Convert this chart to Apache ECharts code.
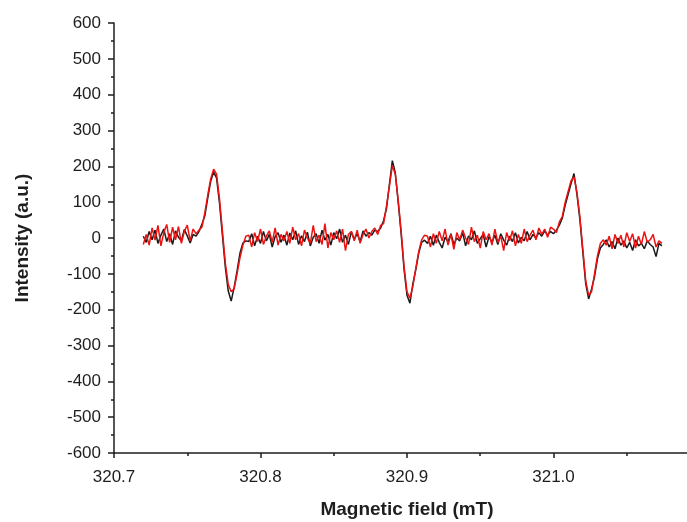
<!DOCTYPE html>
<html>
<head>
<meta charset="utf-8">
<script src="https://cdn.jsdelivr.net/npm/echarts@6/dist/echarts.min.js"></script>
<style>html,body{margin:0;padding:0;background:#fff}#c{width:687px;height:522px}</style>
</head>
<body>
<div id="c"></div>
<script>
// Magnetic field (mT)
var field = [
320.720,320.722,320.724,320.726,320.728,320.730,320.732,320.734,320.736,320.738,
320.740,320.742,320.744,320.746,320.748,320.750,320.752,320.754,320.756,320.758,
320.760,320.762,320.764,320.766,320.768,320.770,320.772,320.774,320.776,320.778,
320.780,320.782,320.784,320.786,320.788,320.790,320.792,320.794,320.796,320.798,
320.800,320.802,320.804,320.806,320.808,320.810,320.812,320.814,320.816,320.818,
320.820,320.822,320.824,320.826,320.828,320.830,320.832,320.834,320.836,320.838,
320.840,320.842,320.844,320.846,320.848,320.850,320.852,320.854,320.856,320.858,
320.860,320.862,320.864,320.866,320.868,320.870,320.872,320.874,320.876,320.878,
320.880,320.882,320.884,320.886,320.888,320.890,320.892,320.894,320.896,320.898,
320.900,320.902,320.904,320.906,320.908,320.910,320.912,320.914,320.916,320.918,
320.920,320.922,320.924,320.926,320.928,320.930,320.932,320.934,320.936,320.938,
320.940,320.942,320.944,320.946,320.948,320.950,320.952,320.954,320.956,320.958,
320.960,320.962,320.964,320.966,320.968,320.970,320.972,320.974,320.976,320.978,
320.980,320.982,320.984,320.986,320.988,320.990,320.992,320.994,320.996,320.998,
321.000,321.002,321.004,321.006,321.008,321.010,321.012,321.014,321.016,321.018,
321.020,321.022,321.024,321.026,321.028,321.030,321.032,321.034,321.036,321.038,
321.040,321.042,321.044,321.046,321.048,321.050,321.052,321.054,321.056,321.058,
321.060,321.062,321.064,321.066,321.068,321.070,321.072,321.074
];

// Intensity (a.u.) - black trace
var blackSignal = [
5,-12,18,-5,22,-15,8,25,-10,12,-18,20,2,-8,24,6,-14,10,
5,18,38,62,112,158,184,168,98,8,-82,-148,-176,-138,-92,-42,-14,-8,
-10,12,-22,5,-15,18,-8,10,-25,4,15,-12,8,-20,14,-5,20,-18,6,-10,16,-22,2,12,-15,22,-6,10,-20,15,-2,25,-12,8,-18,18,-4,12,-10,20,5,15,8,22,
18,28,48,82,150,216,182,100,12,-88,-160,-182,-128,-88,-42,-12,-6,
-15,5,-20,8,-12,-28,2,-10,12,-18,0,-8,15,-22,6,-5,20,-15,-2,10,-25,4,-12,8,-18,12,-6,-20,5,-10,15,-14,2,-8,18,-5,10,0,15,5,20,8,18,
12,22,36,55,92,122,152,180,122,52,-38,-128,-170,-142,-108,-58,-28,-18,
-5,-25,-10,-30,0,-20,-8,-28,-12,-35,-5,-22,-15,-30,-8,-18,-25,-52,-15,-22
];

// Intensity (a.u.) - red trace
var redSignal = [
-18,10,-20,28,-6,35,-22,15,38,-12,30,-5,32,-15,18,36,-8,25,
12,22,30,70,120,165,192,178,110,20,-70,-130,-150,-142,-100,-55,-20,5,
8,-25,15,-10,25,-18,5,20,-12,28,-20,10,-8,18,-15,30,-5,12,-22,22,0,-15,35,-10,8,-18,40,-28,15,-5,20,-12,25,-35,10,18,-8,22,-15,10,25,0,18,28,
10,35,40,90,145,202,178,105,20,-80,-150,-168,-135,-85,-38,-5,8,
5,-25,12,-15,18,-8,25,-20,10,-32,15,-5,22,0,-18,30,-10,8,-28,18,-5,12,-20,25,-12,5,-35,15,-8,20,-22,10,-15,25,-10,8,22,-5,28,10,25,2,30,
25,15,45,60,100,130,160,170,128,60,-30,-120,-160,-150,-100,-50,-15,-5,
-20,5,-30,10,-15,8,-25,15,-10,12,-28,5,-18,18,-12,-5,10,-25,-8,-15
];

var yTicks = {min: -600, max: 600, step: 100};
var xTicks = {min: 320.7, max: 321.1, step: 0.1};

function zip(xs, ys) { return xs.map(function (x, i) { return [x, ys[i]]; }); }

var FONT = '"Liberation Sans", Arial, sans-serif';
var axisColor = '#1e1e1e';

var chart = echarts.init(document.getElementById('c'), null, {renderer: 'canvas'});
chart.setOption({
  animation: false,
  backgroundColor: '#fff',
  grid: {left: 114, right: -13, top: 23, bottom: 69, outerBoundsMode: 'none', containLabel: false},
  xAxis: {
    type: 'value',
    min: xTicks.min, max: xTicks.max, interval: xTicks.step,
    name: 'Magnetic field (mT)',
    nameLocation: 'middle', nameGap: 47,
    nameTextStyle: {fontFamily: FONT, fontSize: 19, fontWeight: 'bold', color: axisColor},
    axisLine: {show: true, onZero: false, lineStyle: {color: axisColor, width: 1.5}},
    axisTick: {show: true, inside: false, length: 5, lineStyle: {color: axisColor, width: 1.5}},
    minorTick: {show: true, splitNumber: 2, length: 3, lineStyle: {color: axisColor, width: 1.5}},
    splitLine: {show: false},
    axisLabel: {fontFamily: FONT, fontSize: 17, color: axisColor, margin: 16, showMaxLabel: false,
      formatter: function (v) { return v >= xTicks.max - 1e-9 ? '' : v.toFixed(1); }}
  },
  yAxis: {
    type: 'value',
    min: yTicks.min, max: yTicks.max, interval: yTicks.step,
    name: 'Intensity (a.u.)',
    nameLocation: 'middle', nameGap: 82,
    nameTextStyle: {fontFamily: FONT, fontSize: 19, fontWeight: 'bold', color: axisColor},
    axisLine: {show: true, onZero: false, lineStyle: {color: axisColor, width: 1.5}},
    axisTick: {show: true, inside: false, length: 6, lineStyle: {color: axisColor, width: 1.5}},
    minorTick: {show: true, splitNumber: 2, length: 3, lineStyle: {color: axisColor, width: 1.5}},
    splitLine: {show: false},
    axisLabel: {fontFamily: FONT, fontSize: 17, color: axisColor, margin: 13}
  },
  series: [
    {type: 'line', name: 'black', data: zip(field, blackSignal), showSymbol: false, symbol: 'none',
     lineStyle: {color: '#1a1a1a', width: 1.5}, z: 2},
    {type: 'line', name: 'red', data: zip(field, redSignal), showSymbol: false, symbol: 'none',
     lineStyle: {color: '#ee1111', width: 1.5}, z: 3}
  ]
});
</script>
</body>
</html>
